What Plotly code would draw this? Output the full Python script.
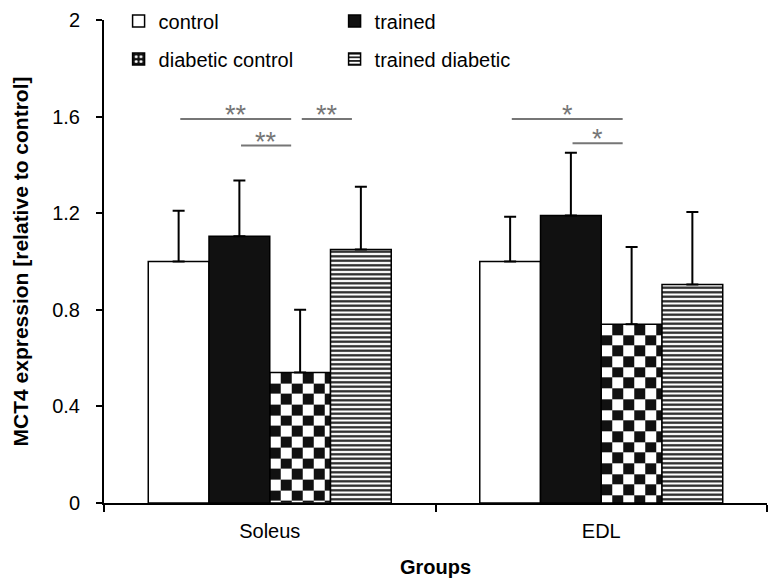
import math
import plotly.graph_objects as go

# ---- data -------------------------------------------------------------
groups = ["Soleus", "EDL"]
series_names = ["control", "trained", "diabetic control", "trained diabetic"]

# MCT4 expression relative to control (mean)
control = [1.00, 1.00]
trained = [1.105, 1.19]
diabetic_control = [0.54, 0.74]
trained_diabetic = [1.05, 0.905]

# upper error bars (SD)
control_err = [0.21, 0.185]
trained_err = [0.23, 0.26]
diabetic_control_err = [0.26, 0.32]
trained_diabetic_err = [0.26, 0.30]

y_ticks = [0, 0.4, 0.8, 1.2, 1.6, 2]
y_tick_labels = ["0", "0.4", "0.8", "1.2", "1.6", "2"]

# significance comparisons: (group, bar a, bar b, bracket level, label)
comparisons = [
    (0, 0, 2, 1.59, "**"),
    (0, 2, 3, 1.59, "**"),
    (0, 1, 2, 1.48, "**"),
    (1, 0, 2, 1.59, "*"),
    (1, 1, 2, 1.49, "*"),
]

# ---- geometry / style ------------------------------------------------
FONT = "Liberation Sans, Arial, Helvetica, sans-serif"
GROUP_SPAN = 0.733          # fraction of a category used by the 4 bars
BAR_W = GROUP_SPAN / 4
CELL_X = 0.0332             # checkerboard cell (x units)
CELL_Y = 0.0443             # checkerboard cell (y units)
x_pos = list(range(len(groups)))


def bar_offset(i):
    return -GROUP_SPAN / 2 + i * BAR_W


def bar_center(g, i):
    return g + bar_offset(i) + BAR_W / 2


def err(vals):
    return dict(type="data", array=vals, arrayminus=[0] * len(vals),
                symmetric=False, color="black", thickness=2, width=6)


line_black = dict(color="black", width=1.5)

fig = go.Figure()

# checkerboard fill for the diabetic-control bars (drawn beneath the bars)
for g, val in enumerate(diabetic_control):
    x0 = g + bar_offset(2)
    x1 = x0 + BAR_W
    nx = math.ceil((x1 - x0) / CELL_X - 1e-9)
    xe = [x0 + k * CELL_X for k in range(nx)] + [x1]
    ny = math.ceil(val / CELL_Y - 1e-9)
    ye = [0] + [val - k * CELL_Y for k in range(ny - 1, 0, -1)] + [val]
    z = [[(r + c) % 2 for c in range(nx)] for r in range(ny)]
    fig.add_trace(go.Heatmap(
        x=xe, y=ye, z=z, zmin=0, zmax=1,
        colorscale=[[0, "white"], [1, "#111111"]],
        showscale=False, hoverinfo="skip", showlegend=False,
    ))

fig.add_trace(go.Bar(
    name=series_names[0], x=x_pos, y=control, width=BAR_W, offset=bar_offset(0),
    marker=dict(color="white", line=line_black),
    error_y=err(control_err), legend="legend",
))
fig.add_trace(go.Bar(
    name=series_names[1], x=x_pos, y=trained, width=BAR_W, offset=bar_offset(1),
    marker=dict(color="#111111", line=line_black),
    error_y=err(trained_err), legend="legend",
))
fig.add_trace(go.Bar(
    name=series_names[2], x=x_pos, y=diabetic_control, width=BAR_W,
    offset=bar_offset(2),
    marker=dict(color="rgba(0,0,0,0)", line=line_black),
    error_y=err(diabetic_control_err), showlegend=False,
))
# legend key for the checkerboard series
fig.add_trace(go.Bar(
    name=series_names[2], x=[None], y=[None],
    marker=dict(color="#111111", line=line_black,
                pattern=dict(shape=".", fgcolor="white", bgcolor="#111111",
                             size=6, solidity=0.3, fillmode="replace")),
    legend="legend2",
))
fig.add_trace(go.Bar(
    name=series_names[3], x=x_pos, y=trained_diabetic, width=BAR_W,
    offset=bar_offset(3),
    marker=dict(color="white", line=line_black,
                pattern=dict(shape="-", fgcolor="#222222", bgcolor="white",
                             size=4.5, solidity=0.5, fillmode="replace")),
    error_y=err(trained_diabetic_err), legend="legend2",
))

# significance brackets
shapes = []
annotations = []
for g, a, b, lvl, label in comparisons:
    xa = bar_center(g, a) + 0.005
    xb = bar_center(g, b) - 0.027
    shapes.append(dict(type="line", xref="x", yref="y", x0=xa, x1=xb,
                       y0=lvl, y1=lvl, line=dict(color="#767676", width=2)))
    annotations.append(dict(x=(xa + xb) / 2, y=lvl, xref="x", yref="y",
                            text=label, showarrow=False, yanchor="bottom",
                            yshift=-13,
                            font=dict(family=FONT, size=27, color="#767676")))

legend_common = dict(orientation="h", x=0.022, xanchor="left", yanchor="middle",
                     entrywidth=171, entrywidthmode="pixels",
                     bgcolor="rgba(0,0,0,0)",
                     font=dict(family=FONT, size=20, color="black"))

fig.update_layout(
    width=768, height=585,
    margin=dict(l=104, r=1, t=20, b=82),
    paper_bgcolor="white", plot_bgcolor="white",
    barmode="overlay",
    font=dict(family=FONT, size=19, color="black"),
    legend=dict(legend_common, y=0.998),
    legend2=dict(legend_common, y=0.919),
    shapes=shapes,
    annotations=annotations,
    xaxis=dict(
        range=[-0.5, 1.5], tickvals=x_pos, ticktext=groups, ticks="",
        showline=True, linecolor="black", linewidth=2,
        showgrid=False, zeroline=False, ticklabelstandoff=9,
        minor=dict(tickmode="array", tickvals=[-0.5, 0.5, 1.5],
                   ticks="outside", ticklen=7, tickwidth=1.5,
                   tickcolor="black", showgrid=False),
        tickfont=dict(size=20),
        title=dict(text="<b>Groups</b>", font=dict(size=20), standoff=19),
    ),
    yaxis=dict(
        range=[0, 2], tickvals=y_ticks, ticktext=y_tick_labels,
        ticks="outside", ticklen=6, tickwidth=1.5, tickcolor="black",
        showline=True, linecolor="black", linewidth=2,
        showgrid=False, zeroline=False, ticklabelstandoff=12,
        tickfont=dict(size=20),
        title=dict(text="<b>MCT4 expression [relative to control]</b>",
                   font=dict(size=21), standoff=18),
    ),
)

fig.write_html("out.html")
